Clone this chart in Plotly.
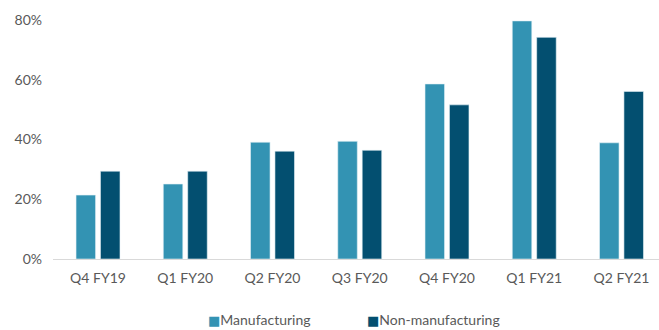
import plotly.graph_objects as go

categories = ["Q4 FY19", "Q1 FY20", "Q2 FY20", "Q3 FY20", "Q4 FY20", "Q1 FY21", "Q2 FY21"]
manufacturing = [0.214, 0.251, 0.391, 0.394, 0.586, 0.797, 0.389]
non_manufacturing = [0.294, 0.294, 0.361, 0.364, 0.516, 0.742, 0.561]
series_names = ["Manufacturing", "Non-manufacturing"]
colors = ["#3393B3", "#034F70"]

FONT = "Lato"
GRAY = "#595959"

fig = go.Figure()
for name, vals, col in zip(series_names, [manufacturing, non_manufacturing], colors):
    fig.add_trace(go.Bar(
        x=categories, y=vals, name=name,
        marker=dict(color=col, line=dict(color="#e6f2f7", width=0.6)),
        showlegend=False,
    ))

fig.update_layout(
    width=659, height=330,
    margin=dict(l=53, r=0, t=20, b=71, pad=0),
    paper_bgcolor="white", plot_bgcolor="white",
    barmode="group", bargap=0.44, bargroupgap=0.2,
    font=dict(family=FONT, size=14, color=GRAY),
)
fig.update_xaxes(
    type="category", range=[-0.516, 6.43],
    showline=True, linecolor="#d9d9d9", linewidth=1,
    showgrid=False, ticks="", ticklabelstandoff=6,
    tickfont=dict(family=FONT, size=14, color=GRAY),
)
fig.update_yaxes(
    range=[0, 0.8], tickvals=[0, 0.2, 0.4, 0.6, 0.8], tickformat=".0%",
    showgrid=False, zeroline=False, showline=False, ticks="",
    ticklabelstandoff=10,
    tickfont=dict(family=FONT, size=14, color=GRAY),
)

legend_x = [206, 365]
for name, col, lx in zip(series_names, colors, legend_x):
    fig.add_annotation(
        xref="paper", yref="paper",
        x=(lx - 53) / 606, y=-(319 - 259) / 239,
        xanchor="left", yanchor="middle", showarrow=False,
        text=f"<span style='color:{col};font-family:DejaVu Sans;font-size:13px'>■</span>{name}",
        font=dict(family=FONT, size=14, color=GRAY),
    )

fig.write_html("out.html")
